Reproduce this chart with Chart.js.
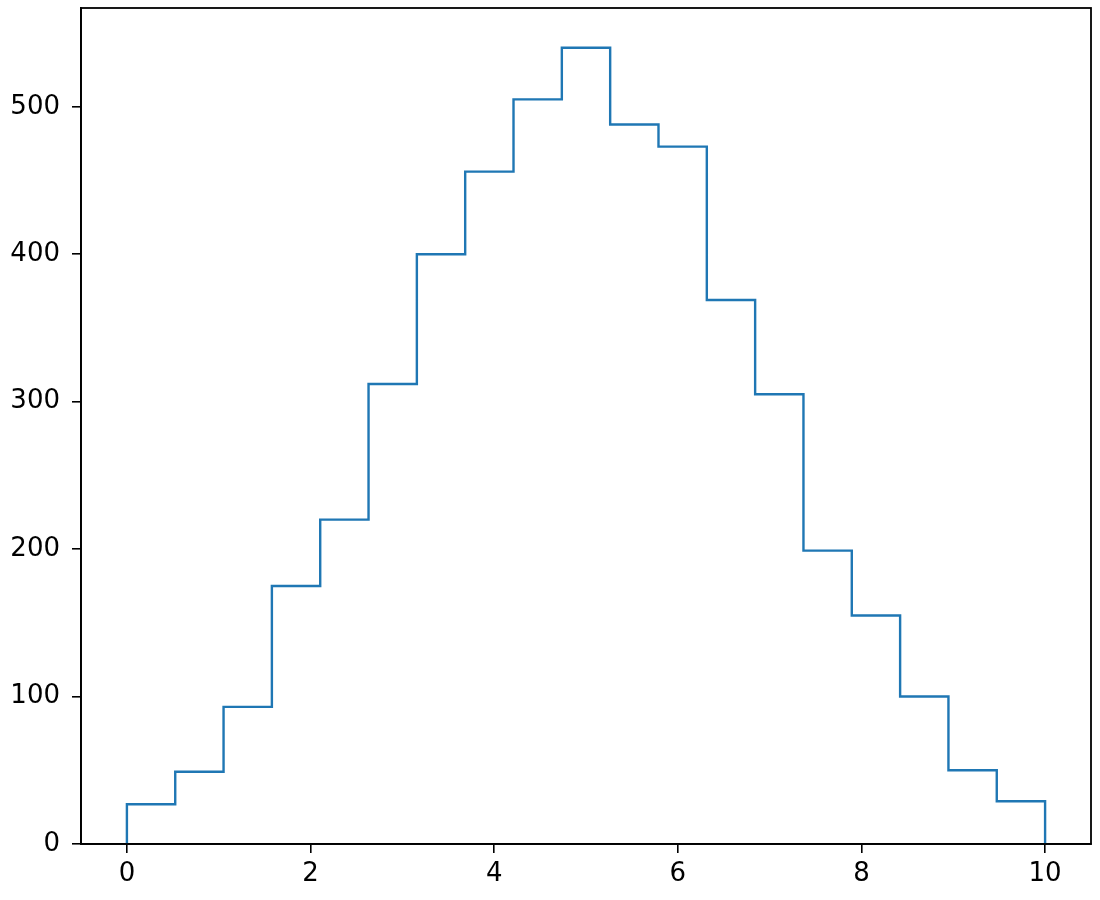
<!DOCTYPE html>
<html>
<head>
<meta charset="utf-8">
<script src="https://cdn.jsdelivr.net/npm/chart.js@4/dist/chart.umd.min.js"></script>
<style>
html,body{margin:0;padding:0;background:#fff;}
#wrap{width:1100px;height:900px;position:relative;}
</style>
</head>
<body>
<div id="wrap"><canvas id="c" width="1100" height="900"></canvas></div>
<script>
const binEdges = [0, 0.5263, 1.0526, 1.5789, 2.1053, 2.6316, 3.1579, 3.6842, 4.2105, 4.7368, 5.2632, 5.7895, 6.3158, 6.8421, 7.3684, 7.8947, 8.4211, 8.9474, 9.4737, 10];
const counts = [27, 49, 93, 175, 220, 312, 400, 456, 505, 540, 488, 473, 369, 305, 199, 155, 100, 50, 29];
const xTicks = [0, 2, 4, 6, 8, 10];
const yTicks = [0, 100, 200, 300, 400, 500];

const pts = [{x: binEdges[0], y: 0}];
counts.forEach((c, i) => pts.push({x: binEdges[i], y: c}));
pts.push({x: binEdges[binEdges.length - 1], y: counts[counts.length - 1]});
pts.push({x: binEdges[binEdges.length - 1], y: 0});

const frame = {
  id: 'frame',
  afterDraw(chart) {
    const a = chart.chartArea, ctx = chart.ctx;
    ctx.save();
    ctx.strokeStyle = '#000';
    ctx.lineWidth = 1.8;
    ctx.strokeRect(a.left, a.top, a.right - a.left, a.bottom - a.top);
    ctx.restore();
  }
};

const font = {family: 'DejaVu Sans', size: 26};
new Chart(document.getElementById('c'), {
  type: 'line',
  data: {datasets: [{
    data: pts,
    stepped: true,
    borderColor: '#1f77b4',
    borderWidth: 2.4,
    pointRadius: 0,
    fill: false
  }]},
  options: {
    responsive: false,
    animation: false,
    layout: {padding: {top: 8, right: 9, left: 0, bottom: 0}},
    plugins: {legend: {display: false}, tooltip: {enabled: false}},
    scales: {
      x: {
        type: 'linear', min: -0.5, max: 10.5,
        afterBuildTicks(s) { s.ticks = xTicks.map(v => ({value: v})); },
        afterFit(s) { s.height = 56; s.paddingLeft = 0; s.paddingRight = 0; },
        ticks: {color: '#000', font: font, padding: 6, maxRotation: 0},
        grid: {drawOnChartArea: false, drawTicks: true, tickLength: 9, color: '#000', lineWidth: 1.6},
        border: {display: true, color: '#000', width: 1.8}
      },
      y: {
        type: 'linear', min: 0, max: 567,
        afterBuildTicks(s) { s.ticks = yTicks.map(v => ({value: v})); },
        afterFit(s) { s.width = 81; s.paddingTop = 0; s.paddingBottom = 0; },
        ticks: {color: '#000', font: font, padding: 12},
        grid: {drawOnChartArea: false, drawTicks: true, tickLength: 9, color: '#000', lineWidth: 1.6},
        border: {display: true, color: '#000', width: 1.8}
      }
    }
  },
  plugins: [frame]
});
</script>
</body>
</html>
